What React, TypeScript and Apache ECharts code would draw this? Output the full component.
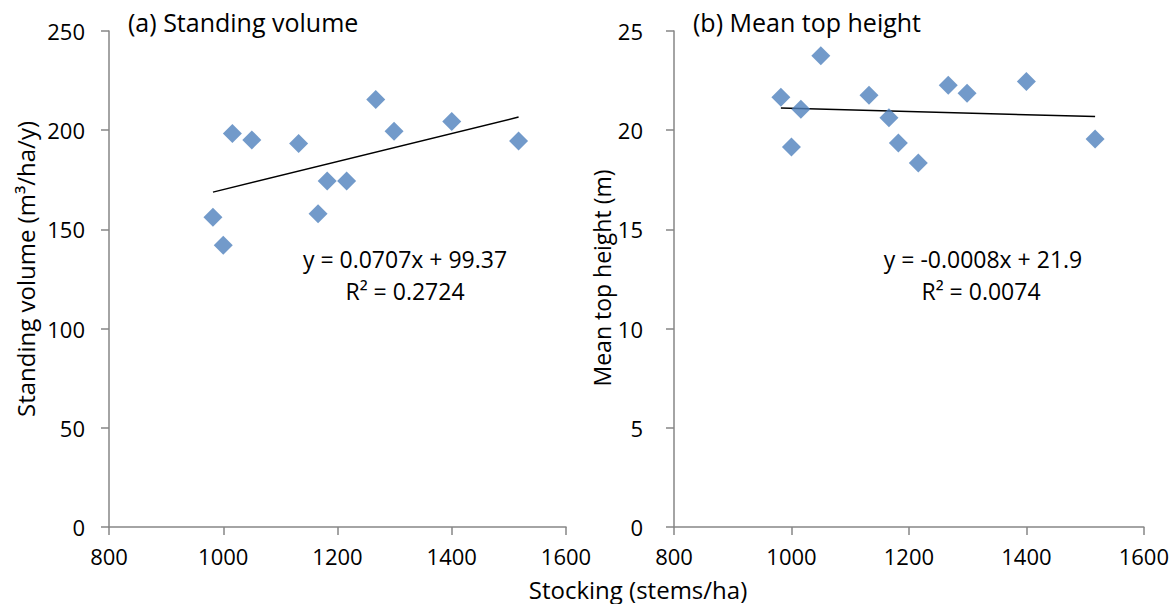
import React, { useEffect, useRef } from "react";
import * as echarts from "echarts";

// Plot stocking (stems/ha) shared by both panels
const stocking = [982, 1000, 1016, 1050, 1132, 1166, 1182, 1216, 1267, 1299, 1400, 1517];
// (a) Standing volume (m³/ha/y)
const standingVolume = [156.1, 142.0, 198.3, 195.1, 193.3, 157.9, 174.4, 174.4, 215.5, 199.5, 204.4, 194.5];
// (b) Mean top height (m)
const meanTopHeight = [21.66, 19.15, 21.06, 23.75, 21.76, 20.63, 19.35, 18.35, 22.27, 21.86, 22.46, 19.56];

// Linear trend fits
const volumeSlope = 0.0707;
const volumeIntercept = 99.37;
const volumeR2 = "0.2724";
const heightSlope = -0.0008;
const heightIntercept = 21.9;
const heightR2 = "0.0074";

// Axis settings
const xTicks = { min: 800, max: 1600, interval: 200 };
const volumeTicks = { min: 0, max: 250, interval: 50 };
const heightTicks = { min: 0, max: 25, interval: 5 };

const FONT = "Open Sans";
const AXIS_COLOR = "#868686";
const MARKER_COLOR = "#4F81BD";

function trendPoints(slope: number, intercept: number): number[][] {
  const lo = Math.min(...stocking);
  const hi = Math.max(...stocking);
  return [
    [lo, slope * lo + intercept],
    [hi, slope * hi + intercept],
  ];
}

function fmtEq(slope: number, intercept: number): string {
  return `y = ${slope}x + ${intercept}`;
}

export default function App() {
  const ref = useRef<HTMLDivElement>(null);

  useEffect(() => {
    if (!ref.current) return;
    const chart = echarts.init(ref.current, null, { renderer: "svg" });

    const axisLine = { show: true, lineStyle: { color: AXIS_COLOR, width: 1.5 } };
    const axisTick = { show: true, length: 8, lineStyle: { color: AXIS_COLOR, width: 1.5 } };
    const labelStyle = {
      color: "#000",
      fontFamily: FONT,
      fontSize: 22,
      formatter: (v: number) => String(v),
    };

    const xAxisBase = {
      type: "value" as const,
      ...xTicks,
      axisLine,
      axisTick,
      axisLabel: { ...labelStyle, margin: 18 },
      splitLine: { show: false },
    };

    const textStyle = (size: number) => ({
      fill: "#000",
      fontFamily: FONT,
      fontSize: size,
    });

    chart.setOption({
      animation: false,
      backgroundColor: "#fff",
      grid: [
        { left: 109, top: 31, width: 457, height: 496 },
        { left: 674, top: 31, width: 470, height: 496 },
      ],
      xAxis: [
        { ...xAxisBase, gridIndex: 0 },
        { ...xAxisBase, gridIndex: 1 },
      ],
      yAxis: [
        {
          type: "value",
          gridIndex: 0,
          ...volumeTicks,
          axisLine,
          axisTick,
          axisLabel: { ...labelStyle, margin: 24 },
          splitLine: { show: false },
        },
        {
          type: "value",
          gridIndex: 1,
          ...heightTicks,
          axisLine,
          axisTick,
          axisLabel: { ...labelStyle, margin: 31 },
          splitLine: { show: false },
        },
      ],
      series: [
        {
          type: "line",
          xAxisIndex: 0,
          yAxisIndex: 0,
          data: trendPoints(volumeSlope, volumeIntercept),
          showSymbol: false,
          lineStyle: { color: "#000", width: 1.5 },
          z: 1,
        },
        {
          type: "scatter",
          xAxisIndex: 0,
          yAxisIndex: 0,
          data: stocking.map((s, i) => [s, standingVolume[i]]),
          symbol: "diamond",
          symbolSize: 19,
          itemStyle: { color: MARKER_COLOR },
          z: 2,
        },
        {
          type: "line",
          xAxisIndex: 1,
          yAxisIndex: 1,
          data: trendPoints(heightSlope, heightIntercept),
          showSymbol: false,
          lineStyle: { color: "#000", width: 1.5 },
          z: 1,
        },
        {
          type: "scatter",
          xAxisIndex: 1,
          yAxisIndex: 1,
          data: stocking.map((s, i) => [s, meanTopHeight[i]]),
          symbol: "diamond",
          symbolSize: 19,
          itemStyle: { color: MARKER_COLOR },
          z: 2,
        },
      ],
      graphic: [
        {
          type: "text",
          x: 128,
          y: 22,
          style: { text: "(a) Standing volume", ...textStyle(25), verticalAlign: "middle" },
        },
        {
          type: "text",
          x: 693,
          y: 22,
          style: { text: "(b) Mean top height", ...textStyle(25), verticalAlign: "middle" },
        },
        {
          type: "text",
          x: 25,
          y: 269,
          rotation: Math.PI / 2,
          style: {
            text: "Standing volume (m³/ha/y)",
            ...textStyle(24),
            align: "center",
            verticalAlign: "middle",
          },
        },
        {
          type: "text",
          x: 602,
          y: 278,
          rotation: Math.PI / 2,
          style: {
            text: "Mean top height (m)",
            ...textStyle(23),
            align: "center",
            verticalAlign: "middle",
          },
        },
        {
          type: "text",
          x: 638,
          y: 589,
          style: {
            text: "Stocking (stems/ha)",
            ...textStyle(24),
            align: "center",
            verticalAlign: "middle",
          },
        },
        {
          type: "text",
          x: 405,
          y: 259,
          style: {
            text: fmtEq(volumeSlope, volumeIntercept),
            ...textStyle(23),
            align: "center",
            verticalAlign: "middle",
          },
        },
        {
          type: "text",
          x: 405,
          y: 291,
          style: {
            text: `R² = ${volumeR2}`,
            ...textStyle(23),
            align: "center",
            verticalAlign: "middle",
          },
        },
        {
          type: "text",
          x: 983,
          y: 259,
          style: {
            text: fmtEq(heightSlope, heightIntercept),
            ...textStyle(23),
            align: "center",
            verticalAlign: "middle",
          },
        },
        {
          type: "text",
          x: 981,
          y: 291,
          style: {
            text: `R² = ${heightR2}`,
            ...textStyle(23),
            align: "center",
            verticalAlign: "middle",
          },
        },
      ],
    });

    return () => chart.dispose();
  }, []);

  return (
    <div
      ref={ref}
      style={{ position: "absolute", left: 0, top: 0, width: 1172, height: 604 }}
    />
  );
}
